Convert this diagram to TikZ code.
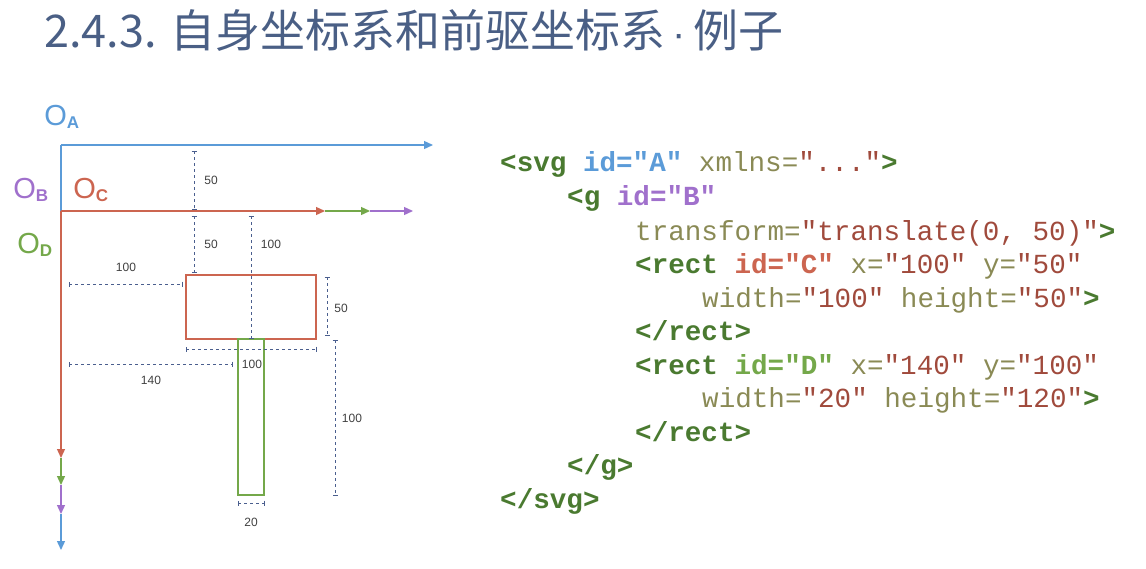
\documentclass[tikz,border=0pt]{standalone}
\usepackage{fontspec}
\setmainfont{Liberation Sans}
\newfontfamily\cjk{Noto Sans CJK SC}
\newfontfamily\codefont{Liberation Mono}
\usetikzlibrary{arrows.meta}
\definecolor{cA}{HTML}{5B9BD8}
\definecolor{cB}{HTML}{A070CC}
\definecolor{cC}{HTML}{CC6550}
\definecolor{cD}{HTML}{74A84A}
\definecolor{tagc}{HTML}{4A7A30}
\definecolor{attc}{HTML}{8A8A55}
\definecolor{strc}{HTML}{A04A3C}
\definecolor{dimc}{HTML}{4A5E8E}
\definecolor{titc}{HTML}{4A5F85}
\newcommand{\tg}[1]{\textcolor{tagc}{\bfseries #1}}
\newcommand{\at}[1]{\textcolor{attc}{#1}}
\newcommand{\st}[1]{\textcolor{strc}{#1}}
\newcommand{\osub}[1]{O\textsubscript{\fontsize{17}{18}\selectfont\bfseries #1}}
\begin{document}
\begin{tikzpicture}[x=1pt,y=-1pt,
  tip/.style={-{Triangle[length=9pt,width=8pt]}},
  ax/.style={line width=1.3pt},
  dim/.style={dimc,dashed,line width=0.5pt,{Bar[width=5pt]}-{Bar[width=5pt]}},
  dl/.style={font=\fontsize{12}{14}\selectfont,text=black!75},
  olab/.style={font=\fontsize{29}{30}\selectfont},
  code/.style={anchor=base west,inner sep=0pt,font=\codefont\fontsize{27.6}{30}\selectfont}]
\useasboundingbox (0,0) rectangle (1146,568);
\node[anchor=base west,inner sep=0pt,text=titc,font=\cjk\fontsize{45}{47}\selectfont] (title) at (44,47) {2.4.3. 自身坐标系和前驱坐标系\,{\rmfamily\fontsize{40}{40}\selectfont·}\,例子};
% axes
\coordinate (oa) at (61,145);
\coordinate (ob) at (61,211);
\coordinate (ax) at (433,145);
\coordinate (cx) at (325,211); \coordinate (dx) at (370,211); \coordinate (bx) at (413,211);
\coordinate (cy) at (61,458); \coordinate (dy) at (61,485); \coordinate (by) at (61,514); \coordinate (ay) at (61,550);
\draw[ax,cA,tip] (oa) -- (ax);
\draw[ax,cA] (oa) -- (ob);
\draw[ax,cA,tip] (by) -- (ay);
\draw[ax,cB,tip] (dy) -- (by);
\draw[ax,cD,tip] (cy) -- (dy);
\draw[ax,cC,tip] (ob) -- (cy);
\draw[ax,cB,tip] (dx) -- (bx);
\draw[ax,cD,tip] (cx) -- (dx);
\draw[ax,cC,tip] (ob) -- (cx);
\node[olab,text=cA] (la) at (62,117) {\osub{A}};
\node[olab,text=cB] (lb) at (31,190) {\osub{B}};
\node[olab,text=cC] (lc) at (91,190) {\osub{C}};
\node[olab,text=cD] (ld) at (35,245) {\osub{D}};
% rects
\draw[cC,line width=1.6pt] (186,275) rectangle (316,339);
\draw[cD,line width=1.6pt] (238,339) rectangle (264,495);
% dimensions
\draw[dim] (194,151) -- (194,209); \node[dl] (d1) at (211,180) {50};
\draw[dim] (194,216) -- (194,272); \node[dl] (d2) at (211,244) {50};
\draw[dim] (251,216) -- (251,338); \node[dl] (d3) at (271,244) {100};
\draw[dim] (69,284) -- (182,284); \node[dl] (d4) at (126,267) {100};
\draw[dim] (327,277) -- (327,335); \node[dl] (d5) at (341,308) {50};
\draw[dim] (186,349) -- (316,349); \node[dl] (d6) at (252,364) {100};
\draw[dim] (69,364) -- (232,364); \node[dl] (d7) at (151,380) {140};
\draw[dim] (335,340) -- (335,495); \node[dl] (d8) at (352,418) {100};
\draw[dim] (238,503) -- (264,503); \node[dl] (d9) at (251,522) {20};
% code
\node[code] (l1) at (500,171) {\tg{<svg} \textcolor{cA}{\bfseries id="A"} \at{xmlns=}\st{"..."}\tg{>}};
\node[code] (l2) at (567,205) {\tg{<g} \textcolor{cB}{\bfseries id="B"}};
\node[code] (l3) at (635,240) {\at{transform=}\st{"translate(0, 50)"}\tg{>}};
\node[code] (l4) at (635,273) {\tg{<rect} \textcolor{cC}{\bfseries id="C"} \at{x=}\st{"100"} \at{y=}\st{"50"}};
\node[code] (l5) at (702,307) {\at{width=}\st{"100"} \at{height=}\st{"50"}\tg{>}};
\node[code] (l6) at (635,340) {\tg{</rect>}};
\node[code] (l7) at (635,374) {\tg{<rect} \textcolor{cD}{\bfseries id="D"} \at{x=}\st{"140"} \at{y=}\st{"100"}};
\node[code] (l8) at (702,407) {\at{width=}\st{"20"} \at{height=}\st{"120"}\tg{>}};
\node[code] (l9) at (635,441) {\tg{</rect>}};
\node[code] (l10) at (567,474) {\tg{</g>}};
\node[code] (l11) at (500,508) {\tg{</svg>}};
\end{tikzpicture}
\end{document}
